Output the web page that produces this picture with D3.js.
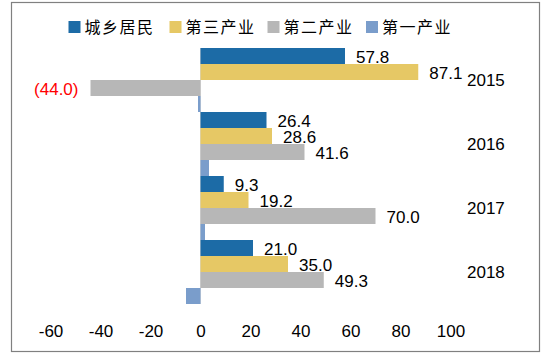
<!DOCTYPE html>
<html>
<head>
<meta charset="utf-8">
<script src="https://cdn.jsdelivr.net/npm/d3@7"></script>
<style>
  html, body { margin: 0; padding: 0; background: #fff; }
  svg { display: block; }
</style>
</head>
<body>
<svg id="chart" width="548" height="355"></svg>
<script>
// ---- data ----
const years = ["2015", "2016", "2017", "2018"];
const seriesNames = ["城乡居民", "第三产业", "第二产业", "第一产业"];
const residents = [57.8, 26.4, 9.3, 21.0];
const tertiary = [87.1, 28.6, 19.2, 35.0];
const secondary = [-44.0, 41.6, 70.0, 49.3];
const primary = [-1.0, 3.4, 1.8, -5.8];
const tickValues = [-60, -40, -20, 0, 20, 40, 60, 80, 100];
const seriesColors = ["#1C6BA6", "#E6C865", "#B7B7B7", "#7A9DCB"];
const labeled = [true, true, true, false];

const seriesValues = [residents, tertiary, secondary, primary];

const svg = d3.select("#chart");
const font = "'Liberation Sans', Arial, sans-serif";

// frame
svg.append("rect")
  .attr("x", 11.5).attr("y", 2.5)
  .attr("width", 528).attr("height", 349)
  .attr("fill", "#fff").attr("stroke", "#808080").attr("stroke-width", 1.2);

// scales
const x = d3.scaleLinear().domain([-60, 100]).range([50.5, 450.5]);
const y = d3.scaleBand().domain(years).range([48, 304]).paddingInner(0).paddingOuter(0);
const ySub = d3.scaleBand().domain(d3.range(seriesNames.length)).range([0, y.bandwidth()]).padding(0);

// zero line
svg.append("line")
  .attr("x1", x(0)).attr("x2", x(0))
  .attr("y1", y.range()[0]).attr("y2", y.range()[1])
  .attr("stroke", "#d9d9d9").attr("stroke-width", 1);

// bars
const rows = [];
years.forEach((yr, i) => {
  seriesValues.forEach((vals, s) => {
    rows.push({ year: yr, s: s, v: vals[i] });
  });
});

svg.append("g").selectAll("rect")
  .data(rows).join("rect")
  .attr("x", d => Math.min(x(0), x(d.v)))
  .attr("width", d => Math.abs(x(d.v) - x(0)))
  .attr("y", d => y(d.year) + ySub(d.s))
  .attr("height", ySub.bandwidth())
  .attr("fill", d => seriesColors[d.s]);

// value labels
const fmt = d3.format(".1f");
svg.append("g").selectAll("text")
  .data(rows.filter(d => labeled[d.s])).join("text")
  .attr("x", d => d.v >= 0 ? x(d.v) + 11 : x(d.v) - 12)
  .attr("y", d => y(d.year) + ySub(d.s) + ySub.bandwidth() / 2)
  .attr("dy", "0.42em")
  .attr("text-anchor", d => d.v >= 0 ? "start" : "end")
  .attr("font-family", font).attr("font-size", 17)
  .attr("fill", d => d.v >= 0 ? "#000" : "#FF0000")
  .text(d => d.v >= 0 ? fmt(d.v) : "(" + fmt(Math.abs(d.v)) + ")");

// year labels (category axis on right)
svg.append("g").selectAll("text")
  .data(years).join("text")
  .attr("x", 467)
  .attr("y", d => y(d) + y.bandwidth() / 2)
  .attr("dy", "0.38em")
  .attr("font-family", font).attr("font-size", 17)
  .attr("fill", "#000")
  .text(d => d);

// x axis
const xAxis = d3.axisBottom(x).tickValues(tickValues).tickSize(0).tickPadding(0).tickFormat(d => String(d));
const gx = svg.append("g").attr("transform", "translate(0,325)").call(xAxis);
gx.select(".domain").remove();
gx.selectAll("text")
  .attr("font-family", font).attr("font-size", 17)
  .attr("fill", "#000").attr("dy", "0.71em").attr("y", 0);

// legend
const legendX = [68.5, 169.5, 267.5, 366];
const lg = svg.append("g").selectAll("g")
  .data(seriesNames).join("g")
  .attr("transform", (d, i) => `translate(${legendX[i]},21)`);
lg.append("rect").attr("width", 12).attr("height", 12)
  .attr("fill", (d, i) => seriesColors[i]);
lg.append("text")
  .attr("x", 16).attr("y", 6).attr("dy", "0.36em")
  .attr("font-family", "'Noto Sans CJK SC', sans-serif")
  .attr("font-size", 16).attr("letter-spacing", 1.5)
  .attr("fill", "#000")
  .text(d => d);
</script>
</body>
</html>
